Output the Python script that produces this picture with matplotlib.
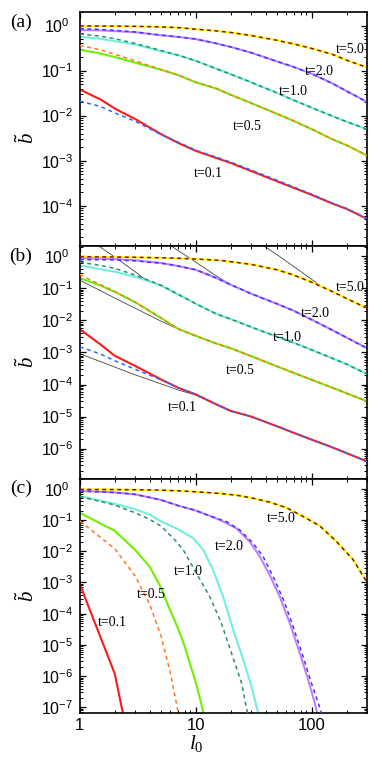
import matplotlib
matplotlib.use('Agg')
import matplotlib.pyplot as plt
import matplotlib.ticker as mticker
import numpy as np

plt.rcParams['font.family'] = 'Liberation Sans'
plt.rcParams['mathtext.fontset'] = 'custom'
plt.rcParams['mathtext.rm'] = 'Liberation Sans'
plt.rcParams['mathtext.it'] = 'Liberation Serif:italic'
plt.rcParams['mathtext.sf'] = 'Liberation Serif'

# l0 grid used for panels (a) and (b)
l0 = [1, 1.5, 2, 3, 5, 7, 10, 15, 20, 30, 50, 70, 100, 150, 200, 300]

# ---- panel (a)
a_t5 = [0.98, 0.975, 0.97, 0.96, 0.93, 0.90, 0.83, 0.76, 0.70, 0.60, 0.47, 0.39, 0.31, 0.23, 0.17, 0.117]
a_t5_d = a_t5
a_t2 = [0.79, 0.78, 0.75, 0.71, 0.61, 0.56, 0.50, 0.40, 0.335, 0.25, 0.16, 0.12, 0.085, 0.052, 0.035, 0.020]
a_t2_d = [0.85, 0.82, 0.78, 0.72, 0.61, 0.56, 0.50, 0.40, 0.335, 0.25, 0.16, 0.12, 0.085, 0.052, 0.035, 0.020]
a_t1 = [0.56, 0.51, 0.45, 0.38, 0.27, 0.22, 0.165, 0.11, 0.083, 0.055, 0.032, 0.022, 0.015, 0.0098, 0.0073, 0.005]
a_t1_d = [0.65, 0.58, 0.51, 0.40, 0.28, 0.22, 0.165, 0.11, 0.083, 0.055, 0.032, 0.022, 0.015, 0.0098, 0.0073, 0.005]
a_t05 = [0.29, 0.24, 0.20, 0.15, 0.105, 0.08, 0.055, 0.04, 0.029, 0.019, 0.011, 0.0076, 0.005, 0.003, 0.0022, 0.0013]
a_t05_d = [0.36, 0.29, 0.23, 0.165, 0.105, 0.08, 0.055, 0.04, 0.029, 0.019, 0.011, 0.0076, 0.005, 0.003, 0.0022, 0.0013]
a_t01 = [0.038, 0.023, 0.0144, 0.0084, 0.0039, 0.0025, 0.00165, 0.00115, 0.00089, 0.00059,
         0.00035, 0.00025, 0.000174, 0.000112, 0.000085, 0.000051]
a_t01_d = [0.021, 0.016, 0.0115, 0.0075, 0.0038, 0.0026, 0.0017, 0.0012, 0.00093, 0.00062,
           0.00037, 0.00026, 0.00018, 0.000115, 0.000087, 0.000052]

# ---- panel (b)
b_t5 = [0.97, 0.96, 0.95, 0.93, 0.90, 0.87, 0.82, 0.76, 0.68, 0.56, 0.38, 0.26, 0.155, 0.08, 0.048, 0.024]
b_t5_d = b_t5
b_t2 = [0.86, 0.85, 0.82, 0.75, 0.62, 0.50, 0.38, 0.21, 0.13, 0.068, 0.033, 0.020, 0.0105, 0.005, 0.0029, 0.00135]
b_t2_d = [0.79, 0.78, 0.77, 0.72, 0.61, 0.50, 0.38, 0.21, 0.13, 0.068, 0.033, 0.020, 0.0105, 0.005, 0.0029, 0.00135]
b_t1 = [0.52, 0.40, 0.33, 0.23, 0.125, 0.066, 0.033, 0.016, 0.011, 0.0062, 0.0031, 0.002, 0.0012, 0.00066, 0.00043, 0.00021]
b_t1_d = [0.66, 0.52, 0.42, 0.26, 0.125, 0.066, 0.033, 0.016, 0.011, 0.0062, 0.0031, 0.002, 0.0012, 0.00066, 0.00043, 0.00021]
b_t05 = [0.21, 0.123, 0.078, 0.037, 0.012, 0.0055, 0.0033, 0.0019, 0.00135, 0.00077,
         0.00037, 0.00023, 0.00014, 0.00008, 0.000053, 0.00003]
b_t05_d = [0.27, 0.13, 0.08, 0.037, 0.012, 0.0055, 0.0033, 0.0019, 0.00135, 0.00077,
           0.00037, 0.00023, 0.00014, 0.00008, 0.000053, 0.00003]
b_t01 = [0.0053, 0.0018, 0.00079, 0.00038, 0.000145, 0.00008, 0.000049, 0.000024, 0.000015, 0.00001,
         0.000005, 0.0000031, 0.0000019, 0.0000011, 0.00000072, 0.0000004]
b_t01_d = [0.0015, 0.0009, 0.00055, 0.0003, 0.00014, 0.00008, 0.000049, 0.000024, 0.000015, 0.00001,
           0.000005, 0.0000031, 0.0000019, 0.0000011, 0.00000072, 0.0000004]

# asymptotic (thin black) lines in panel (b)
g5_x = [36, 50, 70, 100, 117, 150, 200, 300]
g5_y = [2.5, 1.13, 0.48, 0.19, 0.122, 0.08, 0.048, 0.024]
g2_x = [6, 10, 15, 20, 30, 50, 70, 100, 150, 200, 300]
g2_y = [2.2, 0.66, 0.245, 0.13, 0.068, 0.033, 0.020, 0.0105, 0.005, 0.0029, 0.00135]
g1_x = [1.4, 2, 3, 3.6, 5, 7, 10, 15, 20, 30, 50, 70, 100, 150, 200, 300]
g1_y = [2.3, 0.95, 0.33, 0.2, 0.12, 0.064, 0.033, 0.016, 0.011, 0.0062, 0.0031, 0.002, 0.0012, 0.00066, 0.00043, 0.00021]
g05_x = [1, 2, 3, 5, 7, 10, 15, 20, 30, 50, 70, 100, 150, 200, 300]
g05_y = [0.18, 0.05, 0.024, 0.0095, 0.0055, 0.0033, 0.0019, 0.00135, 0.00077, 0.00037, 0.00023, 0.00014, 0.00008, 0.000053, 0.00003]
g01_x = [1, 2, 3, 5, 7, 10, 15, 20, 30, 50, 70, 100, 150, 200, 300]
g01_y = [0.00091, 0.00035, 0.0002, 0.000105, 0.000068, 0.000047, 0.000024, 0.000015, 0.00001,
         0.000005, 0.0000031, 0.0000019, 0.0000011, 0.00000072, 0.0000004]

# ---- panel (c)
c_t5_x = [1, 2, 3, 5, 7, 10, 16, 22.5, 31, 43.5, 60, 84, 117, 162, 226, 300]
c_t5 = [0.95, 0.94, 0.93, 0.90, 0.86, 0.80, 0.71, 0.62, 0.50, 0.37, 0.25, 0.13, 0.065, 0.021, 0.0055, 0.001]
c_t2_x = [1, 2, 3, 5, 7, 10, 13.6, 17.2, 22.4, 29.2, 35.6, 43.5, 53, 64.6, 78.8, 93, 106, 111, 120]
c_t2 = [0.85, 0.76, 0.66, 0.44, 0.29, 0.20, 0.13, 0.089, 0.054, 0.02, 6.8e-3, 1.7e-3, 3.5e-4,
        5e-5, 5.5e-6, 7.8e-7, 1.4e-7, 6.9e-8, 1.5e-8]
c_t2_dx = [1, 2, 3, 5, 7, 10, 13.6, 18.4, 23.9, 31.2, 38, 48, 58.5, 69, 84, 99.3, 113.5, 121, 130]
c_t2_d = [0.85, 0.76, 0.66, 0.44, 0.29, 0.20, 0.13, 0.089, 0.048, 0.018, 6.8e-3, 1.2e-3, 2.2e-4,
          3.9e-5, 4.3e-6, 6e-7, 1.4e-7, 6.9e-8, 1.5e-8]
c_t1_x = [1, 2, 3, 4, 5, 6.8, 9.5, 11.6, 14.1, 17.2, 21, 25.6, 30.2, 34.4, 37]
c_t1 = [0.58, 0.33, 0.22, 0.15, 0.09, 0.054, 0.026, 0.011, 2.5e-3, 3.5e-4, 3.1e-5, 3.4e-6, 4.8e-7, 6.9e-8, 1.5e-8]
c_t1_dx = [1, 2, 3, 4, 5, 6.6, 7.8, 10.1, 13.2, 16.6, 20.3, 24.8, 27.7, 30]
c_t1_d = [0.57, 0.30, 0.17, 0.105, 0.064, 0.023, 0.011, 2e-3, 3.5e-4, 5e-5, 5.5e-6, 6e-7, 7.6e-8, 1.2e-8]
c_t05_x = [1, 2, 3, 4, 5, 6, 7, 8, 9, 10, 11, 12]
c_t05 = [0.17, 0.045, 0.011, 3.2e-3, 6.9e-4, 1.3e-4, 3.5e-5, 9.3e-6, 2.2e-6, 6.3e-7, 1.6e-7, 4e-8]
c_t05_dx = [1, 2, 3, 4, 5, 6, 7, 8]
c_t05_d = [0.093, 0.012, 1.6e-3, 2e-4, 2e-5, 1.4e-6, 8e-8, 3e-9]
c_t01_x = [1, 2, 3]
c_t01 = [8.7e-4, 1.2e-6, 8e-10]

t_labels = ['t=5.0', 't=2.0', 't=1.0', 't=0.5', 't=0.1']
x_ticks = [1, 10, 100]
y_decades = [range(0, -5, -1), range(0, -7, -1), range(0, -8, -1)]

YEL, BRN = '#ffff00', '#8b1010'
PUR, BLU = '#c77dff', '#3a3aff'
CYA, TEA = '#70f0dc', '#2e8b72'
GRN, ORA = '#6ef000', '#ff7722'
RED, BLU2 = '#ff1a1a', '#3366ff'
DASH = (0, (2.6, 2.3))

fig, axes = plt.subplots(3, 1, sharex=True, figsize=(3.82, 7.72), dpi=100)
fig.subplots_adjust(left=0.209, right=0.961, bottom=0.0764, top=0.9845, hspace=0)
ax_a, ax_b, ax_c = axes


def pair(ax, xs, ys, col, xd, yd, cold):
    ax.plot(xs, ys, color=col, lw=1.5, zorder=2)
    ax.plot(xd, yd, color=cold, lw=1.1, ls=DASH, zorder=3)


# (a)
pair(ax_a, l0, a_t5, YEL, l0, a_t5_d, BRN)
pair(ax_a, l0, a_t2, PUR, l0, a_t2_d, BLU)
pair(ax_a, l0, a_t1, CYA, l0, a_t1_d, TEA)
pair(ax_a, l0, a_t05, GRN, l0, a_t05_d, ORA)
pair(ax_a, l0, a_t01, RED, l0, a_t01_d, BLU2)

# (b)
pair(ax_b, l0, b_t5, YEL, l0, b_t5_d, BRN)
pair(ax_b, l0, b_t2, PUR, l0, b_t2_d, BLU)
pair(ax_b, l0, b_t1, CYA, l0, b_t1_d, TEA)
pair(ax_b, l0, b_t05, GRN, l0, b_t05_d, ORA)
pair(ax_b, l0, b_t01, RED, l0, b_t01_d, BLU2)
for gx, gy in [(g5_x, g5_y), (g2_x, g2_y), (g1_x, g1_y), (g05_x, g05_y), (g01_x, g01_y)]:
    ax_b.plot(gx, gy, color='#444444', lw=0.6, zorder=1)

# (c)
pair(ax_c, c_t5_x, c_t5, YEL, c_t5_x, c_t5, BRN)
pair(ax_c, c_t2_x, c_t2, PUR, c_t2_dx, c_t2_d, BLU)
pair(ax_c, c_t1_x, c_t1, CYA, c_t1_dx, c_t1_d, TEA)
ax_c.plot(c_t05_x, c_t05, color=GRN, lw=1.5, zorder=2)
ax_c.plot(c_t05_dx, c_t05_d, color=ORA, lw=1.1, ls=DASH, zorder=3)
ax_c.plot(c_t01_x, c_t01, color=RED, lw=1.5, zorder=2)

# curve labels
lab_pos = {
    ax_a: [(213, 0.295), (117, 0.093), (69, 0.035), (28, 0.0056), (12.7, 5.1e-4)],
    ax_b: [(213, 0.11), (108, 0.016), (61, 0.003), (24, 2.7e-4), (7.7, 1.9e-5)],
    ax_c: [(55, 0.11), (19.5, 0.014), (8.7, 2.2e-3), (4.1, 4.2e-4), (1.89, 5.2e-5)],
}
for ax, pos in lab_pos.items():
    for txt, (x, y) in zip(t_labels, pos):
        ax.text(x, y, txt, fontfamily='Liberation Serif', fontsize=10,
                ha='center', va='center', zorder=5)

ylims = [(1.3e-5, 2.0), (1.1e-7, 2.15), (6.6e-8, 2.0)]
for ax, (lo, hi), dec, lab, ly in zip(axes, ylims, y_decades, ['(a)', '(b)', '(c)'], [1.2, 1.0, 1.0]):
    ax.set_xscale('log')
    ax.set_yscale('log')
    ax.set_xlim(1, 300)
    ax.set_ylim(lo, hi)
    ax.xaxis.set_major_locator(mticker.FixedLocator(x_ticks))
    ax.xaxis.set_minor_locator(mticker.LogLocator(base=10, subs=np.arange(2, 10), numticks=10))
    ax.xaxis.set_major_formatter(mticker.FuncFormatter(lambda v, p: '%g' % v))
    ax.xaxis.set_minor_formatter(mticker.NullFormatter())
    ax.yaxis.set_major_locator(mticker.FixedLocator([10.0 ** k for k in dec]))
    ax.yaxis.set_major_formatter(mticker.LogFormatterSciNotation())
    ax.yaxis.set_minor_locator(mticker.LogLocator(base=10, subs=np.arange(2, 10), numticks=20))
    ax.yaxis.set_minor_formatter(mticker.NullFormatter())
    ax.tick_params(which='both', direction='in', top=True, right=True)
    ax.tick_params(which='major', length=4.5, width=0.9, labelsize=11.5)
    ax.tick_params(which='minor', length=2.5, width=0.7)
    ax.tick_params(axis='y', pad=16.5)
    ax.tick_params(axis='x', labelsize=12)
    for s in ax.spines.values():
        s.set_linewidth(1.2)
    plt.setp(ax.get_yticklabels(), ha='center')
    ax.set_ylabel(r'$\tilde{b}$', fontsize=15)
    ax.text(-0.205, ly, lab, transform=ax.get_yaxis_transform(), fontfamily='Liberation Serif',
            fontsize=14, ha='center', va='center')

ax_a.yaxis.set_label_coords(-0.145, 0.46)
ax_b.yaxis.set_label_coords(-0.145, 0.5)
ax_c.yaxis.set_label_coords(-0.145, 0.5)
ax_c.set_xlabel(r'$l_{\mathsf{0}}$', fontsize=15)
ax_c.xaxis.set_label_coords(0.405, -0.087)

fig.savefig('out.png', dpi=100)
